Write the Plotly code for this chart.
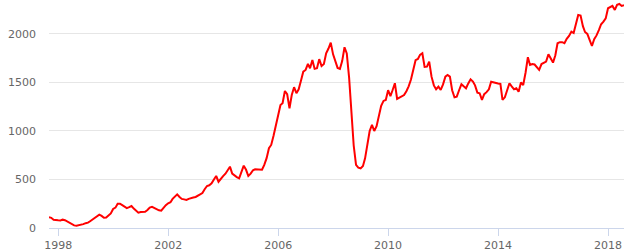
import pandas as pd
import plotly.graph_objects as go

start_month = "1997-09-01"
values = [
    # 1997 Sep-Dec
    110, 105, 85, 80,
    # 1998
    80, 78, 86, 80, 65, 50, 35, 27, 24, 28, 32, 40,
    # 1999
    50, 55, 70, 85, 100, 118, 138, 125, 106, 108, 125, 150,
    # 2000
    196, 210, 250, 250, 235, 222, 205, 215, 227, 200, 175, 158,
    # 2001
    165, 168, 168, 185, 210, 218, 205, 190, 182, 178, 210, 235,
    # 2002
    255, 265, 300, 330, 347, 320, 300, 295, 289, 300, 312, 315,
    # 2003
    320, 335, 347, 360, 400, 433, 440, 460, 500, 536, 477, 510,
    # 2004
    535, 560, 590, 632, 560, 540, 525, 512, 580, 642, 600, 536,
    # 2005
    560, 595, 605, 605, 605, 600, 650, 720, 822, 856, 950, 1050,
    # 2006
    1180, 1268, 1286, 1412, 1380, 1234, 1370, 1451, 1389, 1430, 1520, 1611,
    # 2007
    1629, 1691, 1646, 1732, 1640, 1646, 1740, 1670, 1690, 1800, 1850, 1911,
    # 2008
    1790, 1720, 1650, 1640, 1720, 1863, 1800, 1550, 1230, 850, 650, 622,
    # 2009
    615, 640, 718, 860, 1000, 1062, 1000, 1050, 1170, 1260, 1310, 1320,
    # 2010
    1420, 1360, 1420, 1492, 1330, 1345, 1354, 1370, 1410, 1460, 1530, 1620,
    # 2011
    1730, 1742, 1784, 1801, 1660, 1663, 1715, 1560, 1470, 1430, 1457, 1423,
    # 2012
    1480, 1560, 1577, 1560, 1420, 1347, 1354, 1420, 1481, 1460, 1440, 1490,
    # 2013
    1533, 1510, 1470, 1395, 1389, 1320, 1380, 1400, 1430, 1508, 1500, 1492,
    # 2014
    1490, 1485, 1320, 1347, 1420, 1492, 1460, 1430, 1440, 1405, 1500, 1474,
    # 2015
    1600, 1760, 1680, 1690, 1685, 1660, 1630, 1690, 1700, 1715, 1790, 1740,
    # 2016
    1705, 1780, 1904, 1915, 1915, 1904, 1950, 1980, 2024, 2010, 2120, 2196,
    # 2017
    2190, 2080, 2020, 2000, 1940, 1876, 1945, 1985, 2040, 2100, 2127, 2160,
    # 2018 Jan-Aug
    2265, 2282, 2289, 2248, 2300, 2309, 2289, 2296,
]
x_tick_years = ["1998-01-01", "2002-01-01", "2006-01-01", "2010-01-01", "2014-01-01", "2018-01-01"]
x_tick_labels = ["1998", "2002", "2006", "2010", "2014", "2018"]
y_ticks = [0, 500, 1000, 1500, 2000]

dates = pd.date_range(start_month, periods=len(values), freq="MS")

fig = go.Figure()
fig.add_trace(go.Scatter(
    x=dates, y=values, mode="lines",
    line=dict(color="#ff0000", width=2),
    hoverinfo="skip",
))

fig.update_layout(
    width=630, height=252,
    margin=dict(l=49, r=6, t=0, b=24),
    paper_bgcolor="white", plot_bgcolor="white",
    showlegend=False,
    font=dict(family="DejaVu Sans", size=11, color="#666666"),
)
fig.update_xaxes(
    range=[dates[0], dates[-1]],
    tickvals=x_tick_years, ticktext=x_tick_labels,
    showgrid=False, zeroline=False,
    showline=True, linecolor="#ccd6eb", linewidth=1,
    ticks="outside", ticklen=7, tickcolor="#ccd6eb", tickwidth=1,
    tickfont=dict(size=11, color="#666666"),
)
fig.update_yaxes(
    range=[0, 2350],
    tickvals=y_ticks,
    showgrid=True, gridcolor="#e6e6e6", gridwidth=1,
    zeroline=False, showline=False,
    ticks="", ticklabelstandoff=12,
    tickfont=dict(size=11, color="#666666"),
)

fig.write_html("out.html", config={"displayModeBar": False})
